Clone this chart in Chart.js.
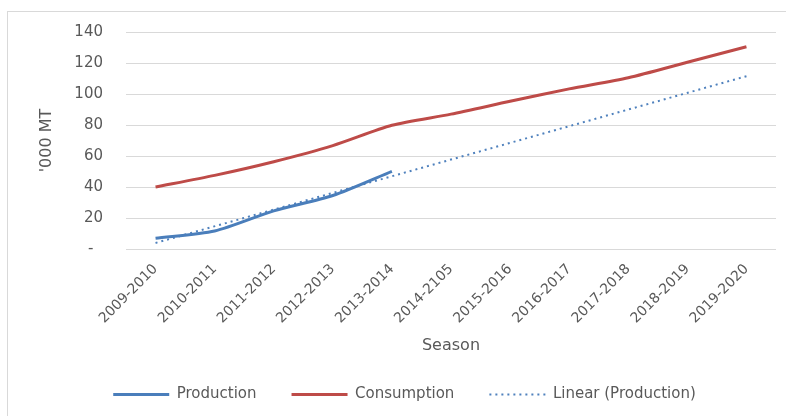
<!DOCTYPE html>
<html>
<head>
<meta charset="utf-8">
<script src="https://cdn.jsdelivr.net/npm/chart.js@4/dist/chart.umd.min.js"></script>
<style>
  html, body { margin: 0; padding: 0; background: #fff; }
  #wrap { position: relative; width: 786px; height: 416px; }
</style>
</head>
<body>
<div id="wrap"><canvas id="chart" width="786" height="416"></canvas></div>
<script>
const seasons = ['2009-2010', '2010-2011', '2011-2012', '2012-2013', '2013-2014', '2014-2105',
  '2015-2016', '2016-2017', '2017-2018', '2018-2019', '2019-2020'];
const production = [7, 11.6, 24.6, 34.5, 50.1, null, null, null, null, null, null];
const consumption = [40, 47.5, 56.3, 66.7, 79.8, 87, 95.3, 103.3, 110.5, 120.5, 130.5];
// linear trend of production, only the two ends
const trend = [3.9, null, null, null, null, null, null, null, null, null, 111.5];
const yTicks = [0, 20, 40, 60, 80, 100, 120, 140];

const textColor = '#595959';
const gridColor = '#d9d9d9';
const font = 'DejaVu Sans';

const frame = {
  id: 'frame',
  beforeDraw(chart) {
    const ctx = chart.ctx;
    ctx.save();
    ctx.strokeStyle = '#d9d9d9';
    ctx.lineWidth = 1;
    ctx.strokeRect(7.5, 11.5, 900, 600);
    ctx.restore();
  }
};

new Chart(document.getElementById('chart'), {
  type: 'line',
  data: {
    labels: seasons,
    datasets: [
      { label: 'Production', data: production, borderColor: '#4a7ebb', backgroundColor: '#4a7ebb',
        borderWidth: 3, tension: 0.25, pointRadius: 0 },
      { label: 'Consumption', data: consumption, borderColor: '#be4b48', backgroundColor: '#be4b48',
        borderWidth: 3, tension: 0.25, pointRadius: 0 },
      { label: 'Linear (Production)', data: trend, borderColor: '#4f81bd', backgroundColor: '#4f81bd',
        borderWidth: 2, borderDash: [2, 4], pointRadius: 0, spanGaps: true }
    ]
  },
  options: {
    responsive: false,
    animation: false,
    layout: { padding: { left: 33, right: 10, top: 32, bottom: 4 } },
    plugins: {
      tooltip: { enabled: false },
      legend: {
        position: 'bottom',
        labels: {
          color: textColor,
          font: { family: font, size: 15 },
          usePointStyle: true,
          pointStyle: 'line',
          pointStyleWidth: 56,
          padding: 35,
          generateLabels(chart) {
            const items = Chart.defaults.plugins.legend.labels.generateLabels(chart);
            items.forEach((item) => {
              const ds = chart.data.datasets[item.datasetIndex];
              item.lineDash = ds.borderDash || [];
              item.lineWidth = ds.borderWidth;
              item.strokeStyle = ds.borderColor;
            });
            return items;
          }
        }
      }
    },
    scales: {
      x: {
        offset: true,
        grid: { display: false },
        border: { display: false },
        ticks: {
          color: textColor, font: { family: font, size: 14 },
          autoSkip: false, minRotation: 45, maxRotation: 45, padding: 4
        },
        title: { display: true, text: 'Season', color: textColor,
          font: { family: font, size: 16 }, padding: { top: 0, bottom: -3 } },
        afterFit(scale) { scale.height = 103; }
      },
      y: {
        min: 0, max: 140,
        afterBuildTicks(scale) { scale.ticks = yTicks.map((v) => ({ value: v })); },
        grid: { color: gridColor, lineWidth: 1, drawTicks: false },
        border: { display: false },
        ticks: {
          color: textColor, font: { family: font, size: 15 }, padding: 23,
          callback: (v) => (v === 0 ? '-  ' : v)
        },
        title: { display: true, text: '\'000 MT', color: textColor,
          font: { family: font, size: 16 } },
        afterFit(scale) { scale.width = 93; }
      }
    }
  },
  plugins: [frame]
});
</script>
</body>
</html>
